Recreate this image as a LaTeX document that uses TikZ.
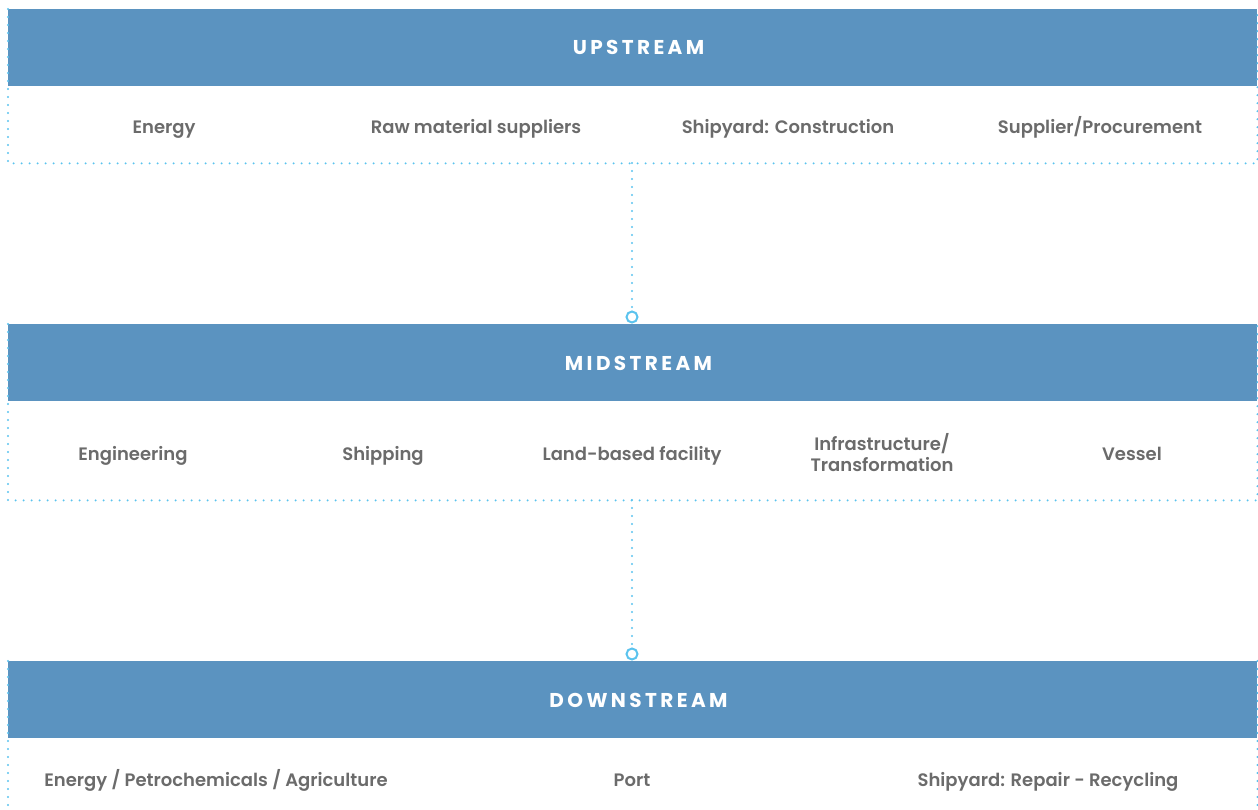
\documentclass[tikz,border=0pt]{standalone}
\usepackage{fontspec}
\setmainfont{Poppins}[BoldFont={Poppins SemiBold}]
\newfontfamily\hdrfont{Poppins Bold}[LetterSpace=17]
\definecolor{hdrblue}{HTML}{5B93C0}
\definecolor{dotblue}{HTML}{5BC3EE}
\definecolor{txtgray}{HTML}{6B6B6B}
\begin{document}
\begin{tikzpicture}[x=1pt,y=-1pt,
  header/.style={fill=hdrblue,draw=none,minimum width=1249pt,minimum height=77pt,anchor=north west,inner sep=0pt},
  hdrtext/.style={font=\fontsize{20}{22}\hdrfont,text=white,inner sep=0pt,anchor=base},
  body/.style={draw=none,minimum width=1249pt,anchor=north west,inner sep=0pt},
  item/.style={font=\fontsize{18}{21}\selectfont\bfseries,text=txtgray,align=center,inner sep=0pt,anchor=base},
  dotline/.style={draw=dotblue,line width=2.2pt,line cap=round,dash pattern=on 0pt off 8pt},
  endcircle/.style={circle,draw=dotblue,line width=2pt,minimum size=11pt,inner sep=0pt,fill=white},
]
\useasboundingbox (0,0) rectangle (1258,810);
% headers
\node[header] (up) at (8,9) {};
\node[header] (mid) at (8,324) {};
\node[header] (down) at (8,661) {};
\node[hdrtext] (upt) at (638.5,55) {UPSTREAM};
\node[hdrtext] (midt) at (638.5,370) {MIDSTREAM};
\node[hdrtext] (downt) at (638.5,707) {DOWNSTREAM};
% bodies
\node[body,minimum height=77pt] (upb) at (8,86) {};
\node[body,minimum height=99pt] (midb) at (8,401) {};
\node[body,minimum height=80pt] (downb) at (8,738) {};
% dotted frames
\draw[dotline] (up.north west) -- (upb.south west) -- (upb.south east) -- (up.north east);
\draw[dotline] (mid.north west) -- (midb.south west) -- (midb.south east) -- (mid.north east);
\draw[dotline] (down.north west) -- (downb.south west);
\draw[dotline] (down.north east) -- (downb.south east);
% items upstream
\node[item] (u1) at (164,134) {Energy};
\node[item] (u2) at (476,134) {Raw material suppliers};
\node[item] (u3) at (788,134) {Shipyard: Construction};
\node[item] (u4) at (1100,134) {Supplier/Procurement};
% items midstream
\node[item] (m1) at (133,460) {Engineering};
\node[item] (m2) at (383,460) {Shipping};
\node[item] (m3) at (632,460) {Land-based facility};
\node[item,anchor=center] (m4) at (882,453) {Infrastructure/\\Transformation};
\node[item] (m5) at (1132,460) {Vessel};
% items downstream
\node[item] (d1) at (216,786) {Energy / Petrochemicals / Agriculture};
\node[item] (d2) at (632,786) {Port};
\node[item] (d3) at (1048,786) {Shipyard: Repair - Recycling};
% connectors
\node[endcircle] (c1) at (632,317) {};
\node[endcircle] (c2) at (632,654) {};
\coordinate (s1) at (632,163);
\coordinate (s2) at (632,500);
\draw[dotline] (s1) -- (c1.north);
\draw[dotline] (s2) -- (c2.north);
\end{tikzpicture}
\end{document}
